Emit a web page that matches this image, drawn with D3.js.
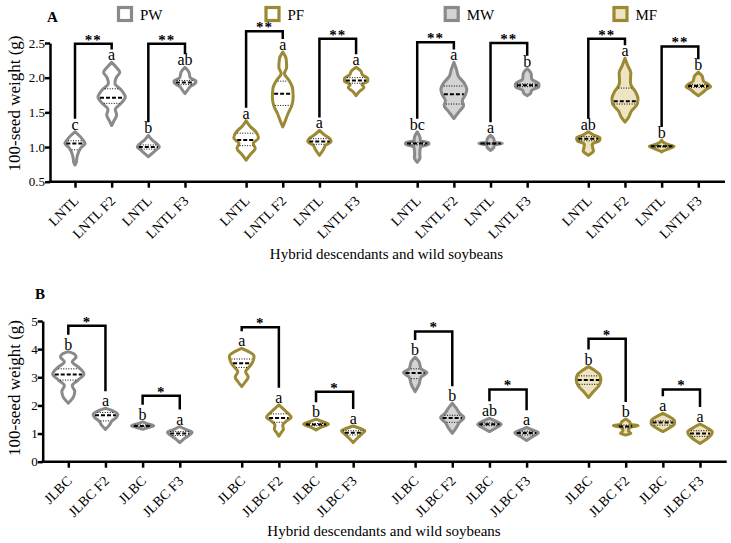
<html>
<head>
    <script src="https://d3js.org/d3.v7.min.js"></script>
    <style>
        body { margin: 0; background: #fff; }
        text { font-family: "Liberation Serif", "Times New Roman", serif; fill: #000; }
        .axis path, .axis line { stroke: #000; stroke-width: 2.5px; }
        .bracket { fill: none; stroke: #000; stroke-width: 2.5px; }
        .median { stroke: #000; stroke-width: 2px; stroke-dasharray: 4 2; }
        .quart { stroke: #000; stroke-width: 1px; stroke-dasharray: 1 1.5; }
    </style>
</head>
<body>
<svg id="chart" width="731" height="543"></svg>
<script>
    // ---- data ----
    const groups = ['PW', 'PF', 'MW', 'MF'];
    const catsA = ['LNTL', 'LNTL F2', 'LNTL', 'LNTL F3'];
    const catsB = ['JLBC', 'JLBC F2', 'JLBC', 'JLBC F3'];
    const ticksA = [0.5, 1.0, 1.5, 2.0, 2.5];
    const ticksB = [0, 1, 2, 3, 4, 5];

    // violin outlines: [seed weight, relative density]
    const profilesA = [
        [[1.22,0],[1.17,0.3],[1.1,0.62],[1.05,0.78],[1.0,0.5],[0.93,0.28],[0.85,0.15],[0.78,0.1],[0.74,0]],
        [[2.22,0],[2.15,0.35],[2.08,0.62],[2.0,0.35],[1.92,0.25],[1.82,0.75],[1.72,1.05],[1.63,0.72],[1.54,0.28],[1.46,0.38],[1.38,0.18],[1.31,0]],
        [[1.17,0],[1.1,0.3],[1.04,0.7],[1.0,0.85],[0.96,0.6],[0.9,0.25],[0.86,0]],
        [[2.15,0],[2.08,0.3],[2.0,0.4],[1.95,0.85],[1.92,0.8],[1.87,0.4],[1.82,0.2],[1.77,0]],
        [[1.38,0],[1.3,0.3],[1.22,0.75],[1.13,0.95],[1.05,0.55],[0.98,0.7],[0.9,0.35],[0.81,0]],
        [[2.37,0],[2.28,0.25],[2.15,0.3],[2.06,0.12],[1.97,0.45],[1.85,0.75],[1.72,0.8],[1.6,0.7],[1.48,0.4],[1.38,0.2],[1.29,0]],
        [[1.24,0],[1.18,0.35],[1.12,0.8],[1.08,0.9],[1.03,0.5],[0.96,0.3],[0.88,0]],
        [[2.15,0],[2.1,0.35],[2.04,0.5],[1.99,0.9],[1.95,0.9],[1.9,0.45],[1.86,0.6],[1.8,0.25],[1.74,0]],
        [[1.22,0],[1.15,0.2],[1.09,0.25],[1.06,0.9],[1.04,0.9],[1.0,0.25],[0.9,0.2],[0.85,0.22],[0.78,0]],
        [[2.22,0],[2.12,0.2],[2.02,0.35],[1.92,0.8],[1.83,1.0],[1.74,0.85],[1.67,0.65],[1.6,0.75],[1.52,0.45],[1.45,0.15],[1.41,0]],
        [[1.17,0],[1.12,0.25],[1.07,0.3],[1.05,0.9],[1.03,0.3],[0.99,0.25],[0.95,0]],
        [[2.13,0],[2.06,0.3],[1.98,0.35],[1.91,0.9],[1.87,0.9],[1.82,0.35],[1.77,0.25],[1.74,0]],
        [[1.22,0],[1.17,0.45],[1.13,0.9],[1.09,0.85],[1.04,0.3],[0.98,0.35],[0.94,0.4],[0.9,0.15],[0.88,0]],
        [[2.28,0],[2.18,0.2],[2.07,0.45],[1.96,0.42],[1.9,0.45],[1.8,0.8],[1.7,1.0],[1.62,0.95],[1.52,0.5],[1.42,0.25],[1.36,0]],
        [[1.1,0],[1.06,0.2],[1.03,0.6],[1.01,0.95],[0.98,0.6],[0.95,0.2],[0.93,0]],
        [[2.08,0],[2.02,0.3],[1.95,0.4],[1.9,0.8],[1.87,0.95],[1.83,0.6],[1.78,0.3],[1.74,0]]
    ];
    const mediansA = [1.05,1.71,1.0,1.93,1.1,1.77,1.08,1.96,1.05,1.76,1.05,1.89,1.12,1.66,1.01,1.88];
    const q3A = [1.09,1.84,1.03,1.96,1.2,1.95,1.12,2.0,1.07,1.88,1.06,1.91,1.15,1.85,1.02,1.9];
    const q1A = [0.96,1.63,0.97,1.9,1.02,1.6,1.04,1.92,1.03,1.62,1.04,1.87,1.09,1.62,1.0,1.86];
    const lettersA = ['c','a','b','ab','a','a','a','a','bc','a','a','b','ab','a','b','b'];
    const bracketTopA = [2.49, 2.49, 2.67, 2.56, 2.51, 2.50, 2.56, 2.45];

    const profilesB = [
        [[3.91,0],[3.83,0.45],[3.72,0.6],[3.55,0.3],[3.35,0.8],[3.12,1.2],[2.9,0.75],[2.7,0.3],[2.5,0.5],[2.3,0.4],[2.08,0]],
        [[1.9,0],[1.8,0.6],[1.68,0.95],[1.58,0.85],[1.45,0.5],[1.3,0.3],[1.15,0]],
        [[1.42,0],[1.35,0.35],[1.28,0.85],[1.22,0.5],[1.15,0]],
        [[1.25,0],[1.15,0.45],[1.05,0.95],[0.95,0.75],[0.8,0.3],[0.68,0]],
        [[4.03,0],[3.92,0.5],[3.75,0.95],[3.55,0.85],[3.35,0.55],[3.2,0.3],[3.0,0.5],[2.85,0.3],[2.67,0]],
        [[2.02,0],[1.85,0.4],[1.7,0.75],[1.58,0.95],[1.45,0.6],[1.3,0.3],[1.15,0.35],[1.05,0.2],[0.91,0]],
        [[1.51,0],[1.42,0.5],[1.33,0.95],[1.25,0.5],[1.13,0]],
        [[1.27,0],[1.18,0.55],[1.1,0.9],[1.0,0.7],[0.85,0.35],[0.68,0]],
        [[3.72,0],[3.55,0.3],[3.3,0.45],[3.17,0.9],[3.0,0.45],[2.75,0.3],[2.49,0]],
        [[2.08,0],[1.9,0.3],[1.7,0.6],[1.57,0.9],[1.4,0.55],[1.2,0.3],[1.01,0]],
        [[1.54,0],[1.45,0.45],[1.33,0.9],[1.2,0.5],[1.07,0]],
        [[1.22,0],[1.12,0.5],[1.03,0.9],[0.9,0.5],[0.75,0]],
        [[3.38,0],[3.25,0.45],[3.1,0.85],[2.91,0.95],[2.7,0.8],[2.5,0.4],[2.28,0]],
        [[1.52,0],[1.42,0.3],[1.32,0.4],[1.28,0.95],[1.23,0.4],[1.1,0.2],[1.0,0.4],[0.95,0]],
        [[1.72,0],[1.6,0.5],[1.45,0.9],[1.35,0.9],[1.2,0.5],[1.07,0]],
        [[1.34,0],[1.2,0.55],[1.05,0.95],[0.9,0.75],[0.75,0.35],[0.65,0]]
    ];
    const mediansB = [3.1,1.65,1.27,1.0,3.5,1.55,1.32,1.03,3.15,1.55,1.33,1.02,2.9,1.25,1.39,1.0];
    const q3B = [3.3,1.75,1.3,1.07,3.65,1.7,1.36,1.1,3.3,1.65,1.38,1.08,3.05,1.3,1.45,1.1];
    const q1B = [2.9,1.45,1.24,0.93,3.35,1.4,1.28,0.95,2.95,1.4,1.28,0.95,2.75,1.2,1.3,0.9];
    const lettersB = ['b','a','b','a','a','a','b','a','b','b','ab','a','b','b','a','a'];
    const bracketTopB = [4.83, 2.34, 4.78, 2.49, 4.63, 2.57, 4.37, 2.57];

    // ---- styles ----
    const serif = '"Liberation Serif", "Times New Roman", serif';
    const strokeCol = { PW: '#8a8a8a', PF: '#9b8933', MW: '#8a8a8a', MF: '#9b8933' };
    const fillCol = { PW: '#ffffff', PF: '#ffffff', MW: '#d4d4d4', MF: '#eee4c2' };
    const groupGap = 4.667;

    const svg = d3.select('#chart');

    // legend
    const legendX = [125, 272.5, 451.7, 620.5];
    groups.forEach((gname, k) => {
        const lg = svg.append('g').attr('transform', `translate(${legendX[k]}, 14)`);
        lg.append('rect')
            .attr('x', -6.5).attr('y', -6.5).attr('width', 13).attr('height', 13)
            .attr('fill', fillCol[gname]).attr('stroke', strokeCol[gname]).attr('stroke-width', 3.2);
        lg.append('text').attr('x', 15).attr('y', 5.5).style('font-size', '15px').text(gname);
    });

    function widthAt(profile, v) {
        for (let k = 0; k < profile.length - 1; k++) {
            const a = profile[k], b = profile[k + 1];
            if (v <= a[0] && v >= b[0]) {
                const t = (a[0] - v) / (a[0] - b[0]);
                return a[1] + t * (b[1] - a[1]);
            }
        }
        return 0;
    }

    function drawPanel(p) {
        const g = svg.append('g');
        const y = d3.scaleLinear().domain(p.domain).range(p.yRange);
        const x = d3.scaleLinear().domain([0, 3 * groupGap + 3]).range(p.xRange);
        const w = d3.scaleLinear().domain([0, 1]).range([0, 13]);
        const pos = d3.range(16).map(k => Math.floor(k / 4) * groupGap + k % 4);

        // y axis
        const yAxis = g.append('g').attr('class', 'axis')
            .attr('transform', `translate(${p.yAxisX}, 0)`)
            .call(d3.axisLeft(y).tickValues(p.ticks).tickSize(5).tickSizeOuter(0).tickFormat(p.fmt));
        yAxis.attr('font-family', null).attr('font-size', null);
        yAxis.selectAll('text').attr('x', -5).style('font-size', '13px');

        // x axis
        const xAxis = g.append('g').attr('class', 'axis')
            .attr('transform', `translate(0, ${p.yRange[0]})`)
            .call(d3.axisBottom(x).tickValues(pos).tickSize(6).tickFormat((d, k) => p.cats[k % 4]));
        xAxis.attr('font-family', null).attr('font-size', null);
        xAxis.select('.domain').remove();
        xAxis.append('line')
            .attr('x1', p.yAxisX - 1.2).attr('x2', p.xEnd).attr('y1', 0).attr('y2', 0);
        xAxis.selectAll('.tick text')
            .attr('x', 0).attr('y', 0).attr('dy', 0)
            .attr('text-anchor', 'end')
            .style('font-size', '14px')
            .attr('transform', 'translate(4, 20) rotate(-45)');

        // violins
        const area = d3.area()
            .y(d => y(d[0]))
            .curve(d3.curveMonotoneY);

        p.profiles.forEach((prof, k) => {
            const gname = groups[Math.floor(k / 4)];
            const cx = x(pos[k]);
            g.append('path')
                .datum(prof)
                .attr('d', area.x0(d => cx - w(d[1])).x1(d => cx + w(d[1])))
                .attr('fill', fillCol[gname])
                .attr('stroke', strokeCol[gname])
                .attr('stroke-width', 3)
                .attr('stroke-linejoin', 'round');

            [p.q1[k], p.q3[k]].forEach(q => {
                const hw = Math.max(0, w(widthAt(prof, q)) - 1.5);
                g.append('line').attr('class', 'quart')
                    .attr('x1', cx - hw).attr('x2', cx + hw)
                    .attr('y1', y(q)).attr('y2', y(q));
            });
            const hm = Math.max(0, w(widthAt(prof, p.medians[k])) - 1.5);
            g.append('line').attr('class', 'median')
                .attr('x1', cx - hm).attr('x2', cx + hm)
                .attr('y1', y(p.medians[k])).attr('y2', y(p.medians[k]));

            g.append('text')
                .attr('x', cx).attr('y', y(prof[0][0]) - 2)
                .attr('text-anchor', 'middle')
                .style('font-size', '16px')
                .text(p.letters[k]);
        });

        // significance brackets
        p.bracketTop.forEach((top, b) => {
            const kL = b * 2, kR = b * 2 + 1;
            const xL = x(pos[kL]), xR = x(pos[kR]);
            const yT = y(top);
            const yL = y(p.profiles[kL][0][0]) - p.legGap;
            const yR = y(p.profiles[kR][0][0]) - p.legGap;
            g.append('path').attr('class', 'bracket')
                .attr('d', `M${xL},${yL}V${yT}H${xR}V${yR}`);
            g.append('text')
                .attr('x', (xL + xR) / 2).attr('y', yT + 1)
                .attr('text-anchor', 'middle')
                .style('font-size', '15px')
                .style('font-weight', 'bold')
                .style('letter-spacing', '1px')
                .text(p.stars);
        });

        // titles
        g.append('text')
            .attr('x', p.tag[0]).attr('y', p.tag[1])
            .style('font-size', '15px').style('font-weight', 'bold')
            .text(p.label);
        g.append('text')
            .attr('x', p.xTitle[0]).attr('y', p.xTitle[1])
            .attr('text-anchor', 'middle')
            .style('font-size', '15px')
            .text('Hybrid descendants and wild soybeans');
        g.append('text')
            .attr('transform', `translate(${p.yTitle[0]}, ${p.yTitle[1]}) rotate(-90)`)
            .attr('text-anchor', 'middle')
            .style('font-size', '17px')
            .text('100-seed weight (g)');
    }

    drawPanel({
        label: 'A', tag: [47, 22],
        domain: [0.5, 2.5], yRange: [181.7, 43], ticks: ticksA, fmt: d3.format('.1f'),
        xRange: [75, 698.3], yAxisX: 50, xEnd: 725,
        cats: catsA, profiles: profilesA, medians: mediansA, q1: q1A, q3: q3A,
        letters: lettersA, bracketTop: bracketTopA, stars: '**', legGap: 13,
        xTitle: [386.5, 259], yTitle: [20, 103.5]
    });

    drawPanel({
        label: 'B', tag: [35, 299],
        domain: [0, 5], yRange: [461.7, 321], ticks: ticksB, fmt: d3.format('d'),
        xRange: [68.3, 700], yAxisX: 42.7, xEnd: 726.7,
        cats: catsB, profiles: profilesB, medians: mediansB, q1: q1B, q3: q3B,
        letters: lettersB, bracketTop: bracketTopB, stars: '*', legGap: 17,
        xTitle: [384, 536], yTitle: [20, 388]
    });

    svg.selectAll('text').style('font-family', serif);
</script>
</body>
</html>
